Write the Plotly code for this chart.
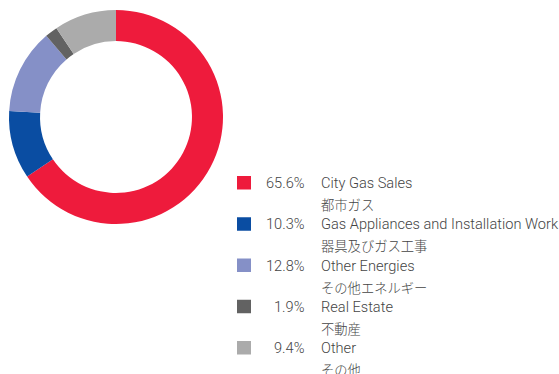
import plotly.graph_objects as go

# Segment shares (%) and labels
categories_en = ["City Gas Sales", "Gas Appliances and Installation Work",
                 "Other Energies", "Real Estate", "Other"]
categories_ja = ["都市ガス", "器具及びガス工事", "その他エネルギー", "不動産", "その他"]
shares = [65.6, 10.3, 12.8, 1.9, 9.4]
colors = ["#EE1B3C", "#0A4DA2", "#8590C7", "#626262", "#ABABAB"]

W, H = 559, 374

fig = go.Figure()
fig.add_trace(go.Pie(
    values=shares,
    labels=categories_en,
    marker=dict(colors=colors, line=dict(width=0)),
    hole=0.71,
    sort=False,
    direction="clockwise",
    rotation=0,
    textinfo="none",
    showlegend=False,
    domain=dict(x=[9 / W, 223 / W], y=[1 - 224 / H, 1 - 10 / H]),
))

# Custom legend: swatch, right-aligned share, English and Japanese names
row_top = 176
row_step = 41.25
shapes = []
annotations = []
txt_font = dict(family="Roboto, 'Liberation Sans', sans-serif", size=14.6, color="#444444", weight=300)
ja_font = dict(family="'Noto Sans CJK JP', sans-serif", size=13.3, color="#444444", weight=300)
for i, (en, ja, v, c) in enumerate(zip(categories_en, categories_ja, shares, colors)):
    top = row_top + i * row_step
    shapes.append(dict(type="rect", xref="paper", yref="paper",
                       x0=237 / W, x1=251 / W, y0=1 - (top + 13.5) / H, y1=1 - top / H,
                       fillcolor=c, line=dict(width=0)))
    annotations.append(dict(text=f"{v:.1f}%", xref="paper", yref="paper",
                            x=307 / W, y=1 - (top + 7) / H, xanchor="right", yanchor="middle",
                            showarrow=False, font=txt_font))
    annotations.append(dict(text=en, xref="paper", yref="paper",
                            x=318.5 / W, y=1 - (top + 7) / H, xanchor="left", yanchor="middle",
                            showarrow=False, font=txt_font))
    annotations.append(dict(text=ja, xref="paper", yref="paper",
                            x=318.5 / W, y=1 - (top + 28.5) / H, xanchor="left", yanchor="middle",
                            showarrow=False, font=ja_font))

fig.update_layout(
    width=W, height=H,
    margin=dict(l=0, r=0, t=0, b=0),
    paper_bgcolor="white", plot_bgcolor="white",
    shapes=shapes, annotations=annotations,
)

fig.write_html("out.html")
